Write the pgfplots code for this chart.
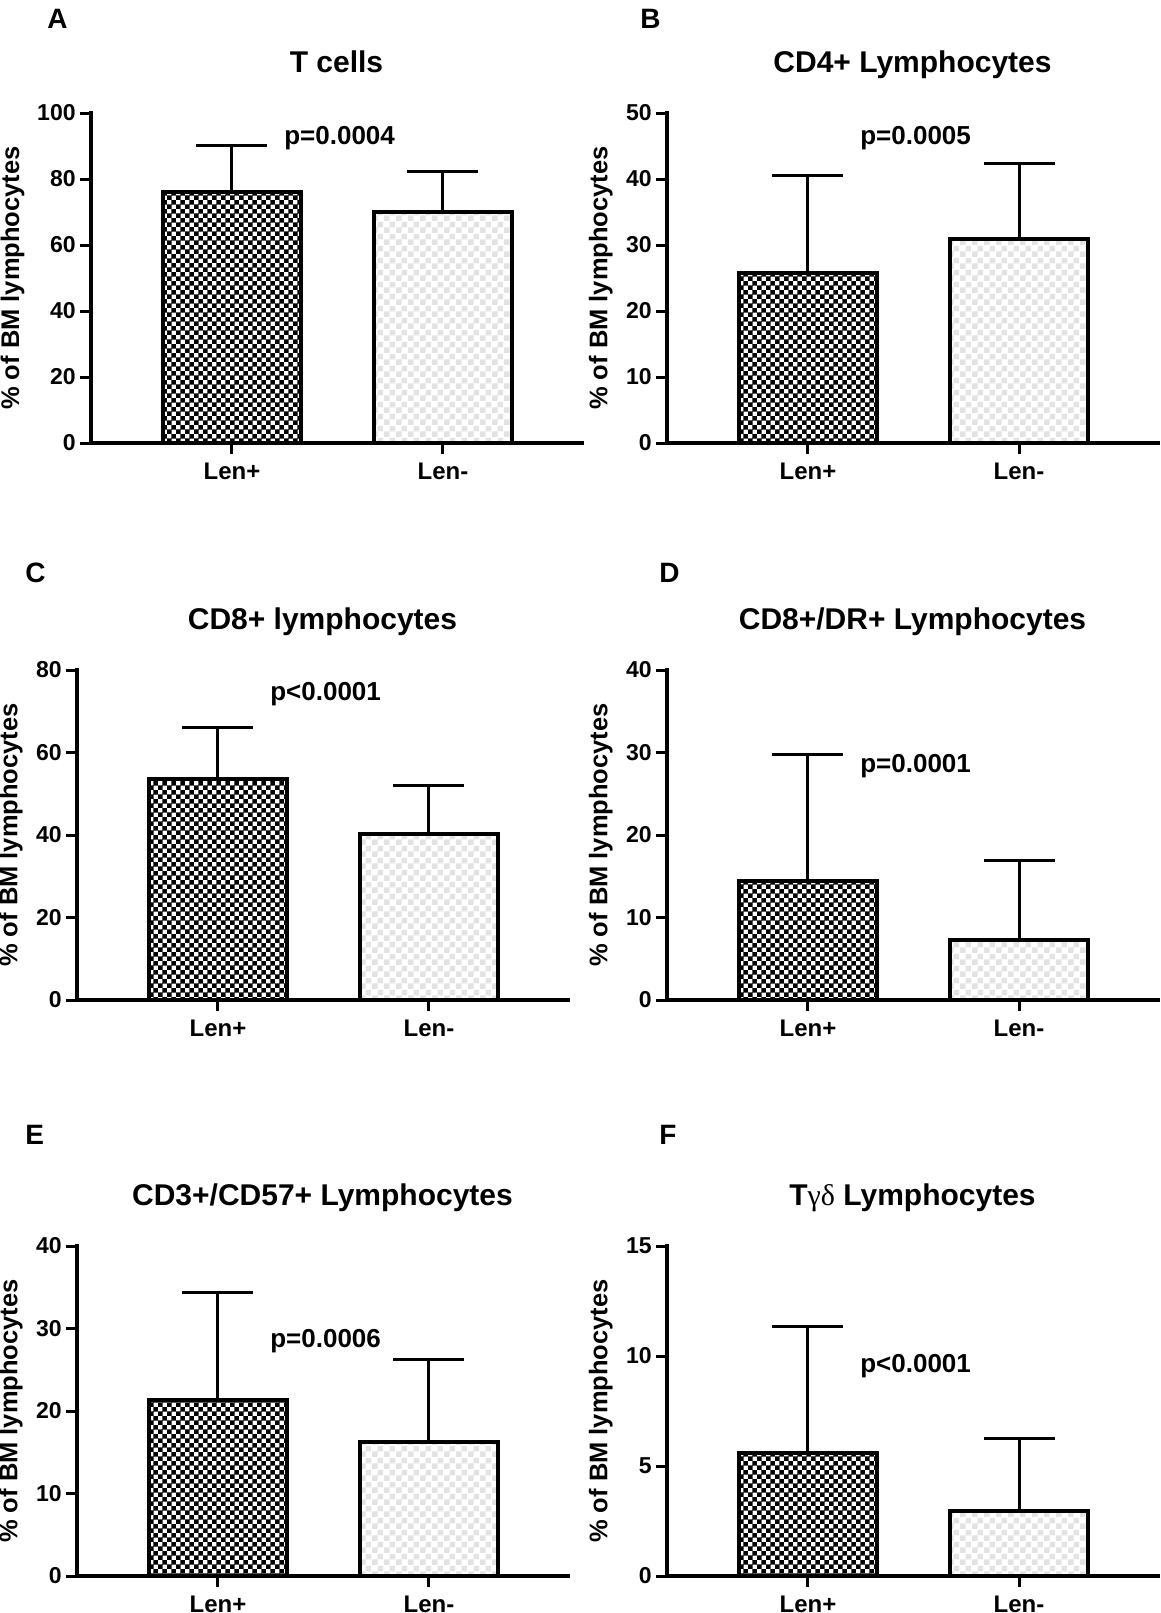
\documentclass[border=0pt]{standalone}
\usepackage{pgfplots}
\pgfplotsset{compat=1.18}
\usetikzlibrary{patterns}
\usepackage{fontspec}
\setmainfont{Liberation Sans}
\newfontfamily\grk{Liberation Serif}

\pgfdeclarepatternformonly{finecheck}{\pgfpointorigin}{\pgfqpoint{4.4pt}{4.4pt}}{\pgfqpoint{4.4pt}{4.4pt}}{%
  \pgfpathrectangle{\pgfpointorigin}{\pgfqpoint{2.3pt}{2.3pt}}%
  \pgfpathrectangle{\pgfqpoint{2.2pt}{2.2pt}}{\pgfqpoint{2.3pt}{2.3pt}}%
  \pgfusepath{fill}}
\pgfdeclarepatternformonly{midcheck}{\pgfpointorigin}{\pgfqpoint{6pt}{6pt}}{\pgfqpoint{6pt}{6pt}}{%
  \pgfpathrectangle{\pgfpointorigin}{\pgfqpoint{3pt}{3pt}}%
  \pgfpathrectangle{\pgfqpoint{3pt}{3pt}}{\pgfqpoint{3pt}{3pt}}%
  \pgfusepath{fill}}

\pgfplotsset{
  panel/.style={
    scale only axis, width=245.5pt, height=165pt,
    anchor=south west,
    axis x line=bottom, axis y line=left,
    x axis line style={-}, y axis line style={-},
    axis line style={line width=2pt, line cap=rect},
    xmin=0.3318, xmax=2.6588, ymin=0,
    xtick={1,2}, xticklabels={Len+,Len-},
    tick align=outside, major tick length=5.5pt,
    every tick/.style={black, line width=1.5pt},
    /pgf/number format/assume math mode=true,
    yticklabel style={font=\fontsize{11.5}{13}\selectfont\bfseries, anchor=east, inner sep=0pt, xshift=-2pt},
    xticklabel style={font=\fontsize{12}{14}\selectfont\bfseries, anchor=base, inner sep=0pt, yshift=-12.5pt},
    ylabel={\% of BM lymphocytes},
    ylabel style={font=\fontsize{12.75}{14}\selectfont\bfseries, at={(axis description cs:-0.135,0.5)}, anchor=center},
    title style={font=\fontsize{15}{17}\selectfont\bfseries, at={(axis description cs:0.5,1)}, anchor=base, yshift=14.5pt, inner sep=0pt},
    clip=false,
  },
  lenp/.style={ybar, bar width=69pt, bar shift=0pt, draw=black, line width=2pt,
    pattern=finecheck, pattern color=black,
    /pgfplots/error bars/y dir=plus, /pgfplots/error bars/y explicit,
    /pgfplots/error bars/error bar style={line width=1.5pt, black, solid},
    /pgfplots/error bars/error mark options={rotate=90, mark size=17.75pt, line width=1.5pt, black}},
  lenm/.style={ybar, bar width=69pt, bar shift=0pt, draw=black, line width=2pt,
    pattern=midcheck, pattern color=black!11,
    /pgfplots/error bars/y dir=plus, /pgfplots/error bars/y explicit,
    /pgfplots/error bars/error bar style={line width=1.5pt, black, solid},
    /pgfplots/error bars/error mark options={rotate=90, mark size=17.75pt, line width=1.5pt, black}},
}
\newcommand{\pfont}{\fontsize{13}{15}\selectfont\bfseries}
\newcommand{\lfont}{\fontsize{14}{16}\selectfont\bfseries}

\begin{document}
\begin{tikzpicture}
\path[use as bounding box] (0,0) rectangle (1161*0.5pt,-1613*0.5pt);

% Panel letters
\node[anchor=base west, inner sep=0pt, font=\lfont] at (47*0.5pt,-28*0.5pt) {A};
\node[anchor=base west, inner sep=0pt, font=\lfont] at (640*0.5pt,-28*0.5pt) {B};
\node[anchor=base west, inner sep=0pt, font=\lfont] at (25*0.5pt,-582*0.5pt) {C};
\node[anchor=base west, inner sep=0pt, font=\lfont] at (659*0.5pt,-582*0.5pt) {D};
\node[anchor=base west, inner sep=0pt, font=\lfont] at (25*0.5pt,-1144*0.5pt) {E};
\node[anchor=base west, inner sep=0pt, font=\lfont] at (659*0.5pt,-1144*0.5pt) {F};

% A
\begin{axis}[panel, at={(91*0.5pt,-443*0.5pt)}, ymax=100, ytick={0,20,40,60,80,100},
  title={T cells}, ylabel style={at={(axis description cs:-0.160,0.5)}}]
\addplot[lenp] coordinates {(1,76) +- (0,14.3)};
\addplot[lenm] coordinates {(2,70) +- (0,12.2)};
\node[font=\pfont, anchor=mid] at (axis cs:1.51,92.2) {p=0.0004};
\end{axis}

% B
\begin{axis}[panel, at={(667*0.5pt,-443*0.5pt)}, ymax=50, ytick={0,10,20,30,40,50},
  title={CD4+ Lymphocytes}]
\addplot[lenp] coordinates {(1,25.8) +- (0,14.8)};
\addplot[lenm] coordinates {(2,30.9) +- (0,11.4)};
\node[font=\pfont, anchor=mid] at (axis cs:1.51,46.1) {p=0.0005};
\end{axis}

% C
\begin{axis}[panel, at={(77*0.5pt,-1000*0.5pt)}, ymax=80, ytick={0,20,40,60,80},
  title={CD8+ lymphocytes}]
\addplot[lenp] coordinates {(1,53.5) +- (0,12.6)};
\addplot[lenm] coordinates {(2,40.3) +- (0,11.8)};
\node[font=\pfont, anchor=mid] at (axis cs:1.51,74) {p<0.0001};
\end{axis}

% D
\begin{axis}[panel, at={(667*0.5pt,-1000*0.5pt)}, ymax=40, ytick={0,10,20,30,40},
  title={CD8+/DR+ Lymphocytes}]
\addplot[lenp] coordinates {(1,14.4) +- (0,15.4)};
\addplot[lenm] coordinates {(2,7.3) +- (0,9.6)};
\node[font=\pfont, anchor=mid] at (axis cs:1.51,28.25) {p=0.0001};
\end{axis}

% E
\begin{axis}[panel, at={(77*0.5pt,-1576*0.5pt)}, ymax=40, ytick={0,10,20,30,40},
  title={CD3+/CD57+ Lymphocytes}]
\addplot[lenp] coordinates {(1,21.3) +- (0,13.1)};
\addplot[lenm] coordinates {(2,16.2) +- (0,10.0)};
\node[font=\pfont, anchor=mid] at (axis cs:1.51,28.4) {p=0.0006};
\end{axis}

% F
\begin{axis}[panel, at={(667*0.5pt,-1576*0.5pt)}, ymax=15, ytick={0,5,10,15},
  title={T{\grk\mdseries γδ} Lymphocytes}]
\addplot[lenp] coordinates {(1,5.6) +- (0,5.75)};
\addplot[lenm] coordinates {(2,2.95) +- (0,3.3)};
\node[font=\pfont, anchor=mid] at (axis cs:1.51,9.5) {p<0.0001};
\end{axis}
\end{tikzpicture}
\end{document}
